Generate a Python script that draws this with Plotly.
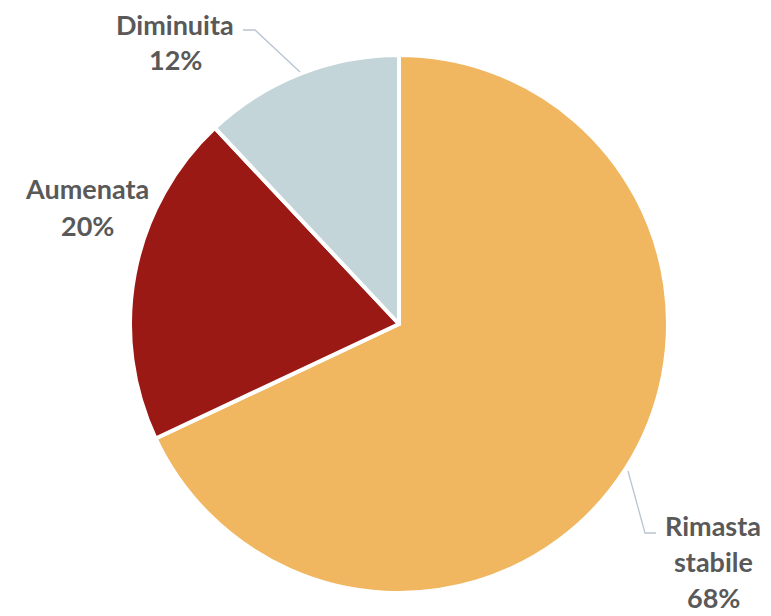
import plotly.graph_objects as go

categories = ["Rimasta stabile", "Aumenata", "Diminuita"]
values = [68, 20, 12]
label_lines = [["Rimasta", "stabile", "68%"], ["Aumenata", "20%"], ["Diminuita", "12%"]]
colors = ["#F0B660", "#9B1915", "#C3D5D8"]

W, H = 771, 616
OFF = 8  # page body margin offset
cx, cy, r = 399 - OFF, 324 - OFF, 269

# label text anchor (pixel centre of first line, in screenshot px) and line step
label_pos = [(713, 525), (87, 189), (175, 24)]
line_step = 36

fig = go.Figure(go.Pie(
    labels=categories, values=values, sort=False, direction="clockwise",
    rotation=0, marker=dict(colors=colors, line=dict(color="white", width=4)),
    textinfo="none", hoverinfo="label+percent", showlegend=False,
    domain=dict(x=[(cx - r) / W, (cx + r) / W], y=[(H - cy - r) / H, (H - cy + r) / H]),
))

annotations = []
for lines, (lx, ly) in zip(label_lines, label_pos):
    for i, t in enumerate(lines):
        annotations.append(dict(
            x=(lx - OFF) / W, y=1 - (ly - OFF + i * line_step) / H, xref="paper", yref="paper",
            text=t, showarrow=False, xanchor="center", yanchor="middle", borderpad=0,
            font=dict(family="Lato", size=27, color="#595959", weight="bold"),
        ))

leaders = [
    [(628, 471), (645, 533), (656, 533)],
    [(300, 72), (255, 30), (243, 30)],
]
shapes = []
for pts in leaders:
    path = "M " + " L ".join(f"{(x - OFF) / W},{1 - (y - OFF) / H}" for x, y in pts)
    shapes.append(dict(type="path", xref="paper", yref="paper", path=path,
                       line=dict(color="#B8C4D2", width=1.3)))

fig.update_layout(
    width=W, height=H, margin=dict(l=0, r=0, t=0, b=0),
    paper_bgcolor="white", plot_bgcolor="white",
    annotations=annotations, shapes=shapes,
)
fig.write_html("out.html")
